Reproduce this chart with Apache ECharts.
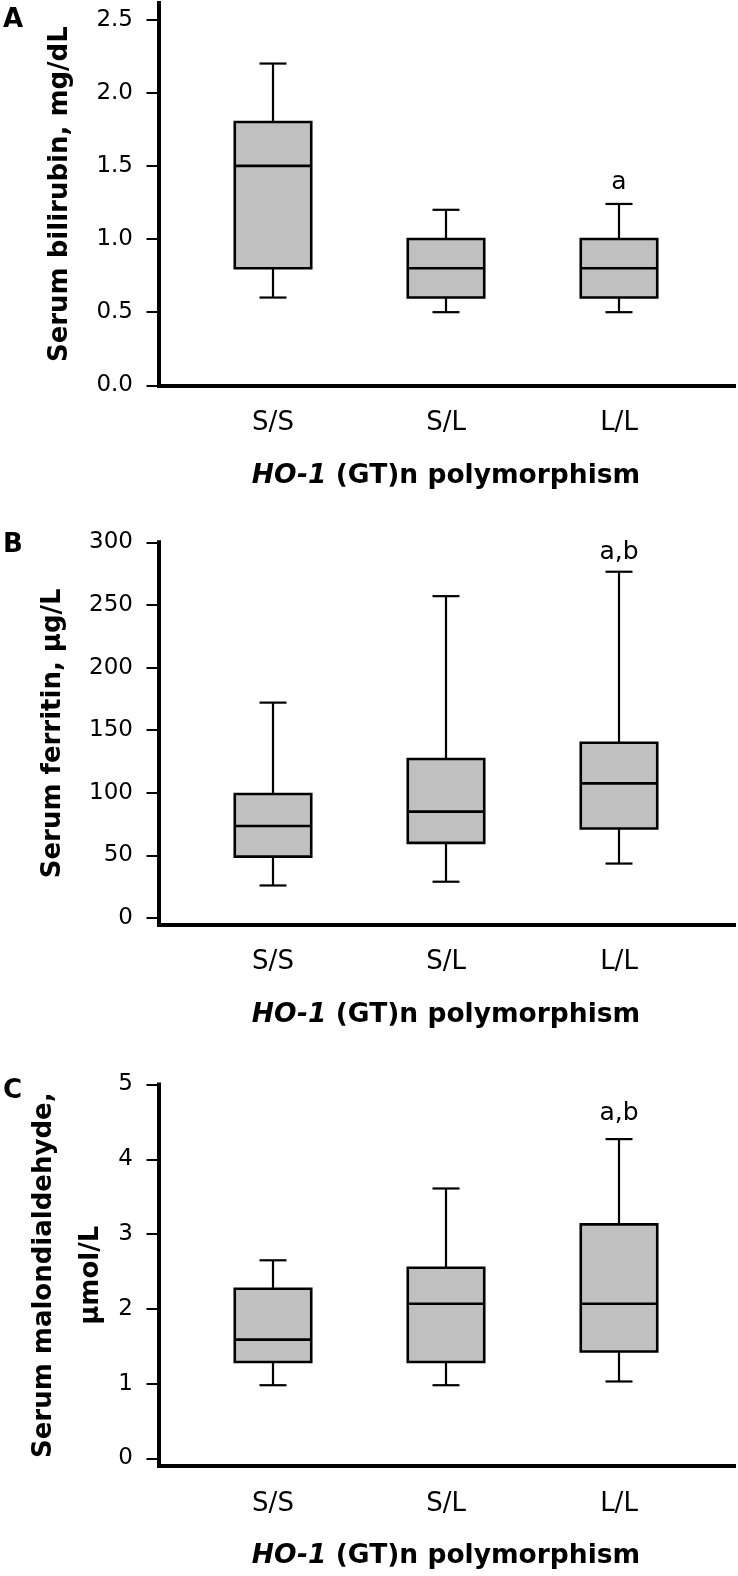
<!DOCTYPE html>
<html>
<head>
<meta charset="utf-8">
<script src="https://cdn.jsdelivr.net/npm/echarts@6/dist/echarts.min.js"></script>
<style>
  html, body { margin: 0; padding: 0; background: #fff; }
  #chart { width: 738px; height: 1576px; }
</style>
</head>
<body>
<div id="chart"></div>
<script>
const FONT = "'DejaVu Sans', sans-serif";

const categories = ["S/S", "S/L", "L/L"];

// each row: [min, Q1, median, Q3, max]
const bilirubin = [
  [0.6, 0.8, 1.5, 1.8, 2.2],
  [0.5, 0.6, 0.8, 1.0, 1.2],
  [0.5, 0.6, 0.8, 1.0, 1.24],
];
const ferritin = [
  [26, 49, 73.5, 99, 172],
  [29, 60, 85, 127, 257],
  [43.5, 71.5, 107.5, 140, 276.5],
];
const malondialdehyde = [
  [0.98, 1.29, 1.59, 2.27, 2.65],
  [0.98, 1.29, 2.07, 2.55, 3.61],
  [1.03, 1.43, 2.07, 3.13, 4.27],
];

const bilirubinTicks = [0, 0.5, 1, 1.5, 2, 2.5];
const ferritinTicks = [0, 50, 100, 150, 200, 250, 300];
const malondialdehydeTicks = [0, 1, 2, 3, 4, 5];

// significance letters: [category index, value, text]
const bilirubinMarks = [[2, 1.39, "a"]];
const ferritinMarks = [[2, 292, "a,b"]];
const malondialdehydeMarks = [[2, 4.61, "a,b"]];

const panels = [
  {
    letter: "A", letterTop: 7,
    stats: bilirubin, ticks: bilirubinTicks, marks: bilirubinMarks, decimals: 1,
    top: 3, height: 382.3, min: 0, max: 2.614,
    yName: "Serum bilirubin, mg/dL", yNameGap: 84, yLineHeight: 30,
  },
  {
    letter: "B", letterTop: 532,
    stats: ferritin, ticks: ferritinTicks, marks: ferritinMarks, decimals: 0,
    top: 542.3, height: 382, min: -5, max: 300,
    yName: "Serum ferritin, \u03bcg/L", yNameGap: 91, yLineHeight: 30,
  },
  {
    letter: "C", letterTop: 1078,
    stats: malondialdehyde, ticks: malondialdehydeTicks, marks: malondialdehydeMarks, decimals: 0,
    top: 1084.5, height: 381.5, min: -0.1, max: 5,
    yName: "Serum malondialdehyde,\n\u03bcmol/L", yNameGap: 44, yLineHeight: 47,
  },
];

const X_NAME = "{i|HO-1} (GT)n polymorphism";

// box + whiskers drawn through the axes of the data grid
function renderBox(params, api) {
  const idx = api.value(0);
  const lo = api.coord([idx, api.value(1)]);
  const q1 = api.coord([idx, api.value(2)]);
  const med = api.coord([idx, api.value(3)]);
  const q3 = api.coord([idx, api.value(4)]);
  const hi = api.coord([idx, api.value(5)]);
  const band = api.size([1, 0])[0];
  const half = band * 0.221;
  const cap = band * 0.078;
  const cx = med[0];
  const line = (x1, y1, x2, y2, w) => ({
    type: "line",
    shape: { x1, y1, x2, y2 },
    style: { stroke: "#000", lineWidth: w },
  });
  return {
    type: "group",
    children: [
      line(cx, hi[1], cx, q3[1], 2.2),
      line(cx, q1[1], cx, lo[1], 2.2),
      line(cx - cap, hi[1], cx + cap, hi[1], 2.2),
      line(cx - cap, lo[1], cx + cap, lo[1], 2.2),
      {
        type: "rect",
        shape: { x: cx - half, y: q3[1], width: half * 2, height: q1[1] - q3[1] },
        style: { fill: "#c0c0c0", stroke: "#000", lineWidth: 2.6 },
      },
      line(cx - half, med[1], cx + half, med[1], 2.6),
    ],
  };
}

// significance letters placed at their value on the data grid
function renderMark(params, api) {
  const pt = api.coord([api.value(0), api.value(1)]);
  return {
    type: "text",
    x: pt[0], y: pt[1],
    style: {
      text: params.context.texts[params.dataIndex],
      fill: "#000", font: "25px " + FONT,
      align: "center", verticalAlign: "middle",
    },
  };
}

const grid = [];
const xAxis = [];
const yAxis = [];
const series = [];
const title = [];

panels.forEach((p, i) => {
  const fi = i * 2;      // frame grid (axis lines, ticks)
  const di = i * 2 + 1;  // data grid (categories, boxes)

  grid.push({ left: 159, right: 4, top: p.top, height: p.height });
  grid.push({ left: 186.5, width: 519, top: p.top, height: p.height });

  xAxis.push({
    gridIndex: fi, type: "value", min: 0, max: 1,
    axisLine: { show: true, onZero: false, lineStyle: { color: "#000", width: 4, cap: "square" } },
    axisTick: { show: false }, axisLabel: { show: false }, splitLine: { show: false },
  });
  xAxis.push({
    gridIndex: di, type: "category", data: categories,
    axisLine: { show: false, onZero: false }, axisTick: { show: false },
    axisLabel: { margin: 25, fontSize: 26, color: "#000", fontFamily: FONT },
    name: X_NAME, nameLocation: "middle", nameGap: 77, nameMoveOverlap: false,
    nameTextStyle: {
      fontSize: 26.5, fontWeight: "bold", color: "#000", fontFamily: FONT,
      rich: { i: { fontSize: 26.5, fontWeight: "bold", fontStyle: "italic", color: "#000", fontFamily: FONT } },
    },
  });

  yAxis.push({
    gridIndex: fi, type: "value", min: p.min, max: p.max,
    axisLine: { show: true, onZero: false, lineStyle: { color: "#000", width: 4, cap: "square" } },
    axisTick: { show: true, length: 12.5, customValues: p.ticks, lineStyle: { color: "#000", width: 2 } },
    axisLabel: {
      customValues: p.ticks, margin: 26, fontSize: 23, color: "#000", fontFamily: FONT,
      formatter: (v) => Number(v).toFixed(p.decimals),
    },
    splitLine: { show: false },
    name: p.yName, nameLocation: "middle", nameRotate: 90, nameGap: p.yNameGap,
    nameMoveOverlap: false,
    nameTextStyle: {
      fontSize: 26, fontWeight: "bold", color: "#000", fontFamily: FONT,
      lineHeight: p.yLineHeight, align: "center",
    },
  });
  yAxis.push({ gridIndex: di, type: "value", min: p.min, max: p.max, show: false });

  series.push({
    type: "custom", xAxisIndex: di, yAxisIndex: di,
    renderItem: renderBox, silent: true,
    encode: { x: 0, y: [1, 2, 3, 4, 5] },
    data: p.stats.map((s, k) => [k, ...s]),
  });
  const texts = p.marks.map((m) => m[2]);
  series.push({
    type: "custom", xAxisIndex: di, yAxisIndex: di, silent: true,
    renderItem: (params, api) => {
      params.context.texts = texts;
      return renderMark(params, api);
    },
    encode: { x: 0, y: 1 },
    data: p.marks.map((m) => [m[0], m[1]]),
  });

  title.push({
    text: p.letter, left: 3, top: p.letterTop, padding: 0,
    textStyle: { fontSize: 26, fontWeight: "bold", color: "#000", fontFamily: FONT },
  });
});

const chart = echarts.init(document.getElementById("chart"));
chart.setOption({
  animation: false,
  backgroundColor: "#fff",
  textStyle: { fontFamily: FONT },
  title,
  grid,
  xAxis,
  yAxis,
  series,
});
</script>
</body>
</html>
